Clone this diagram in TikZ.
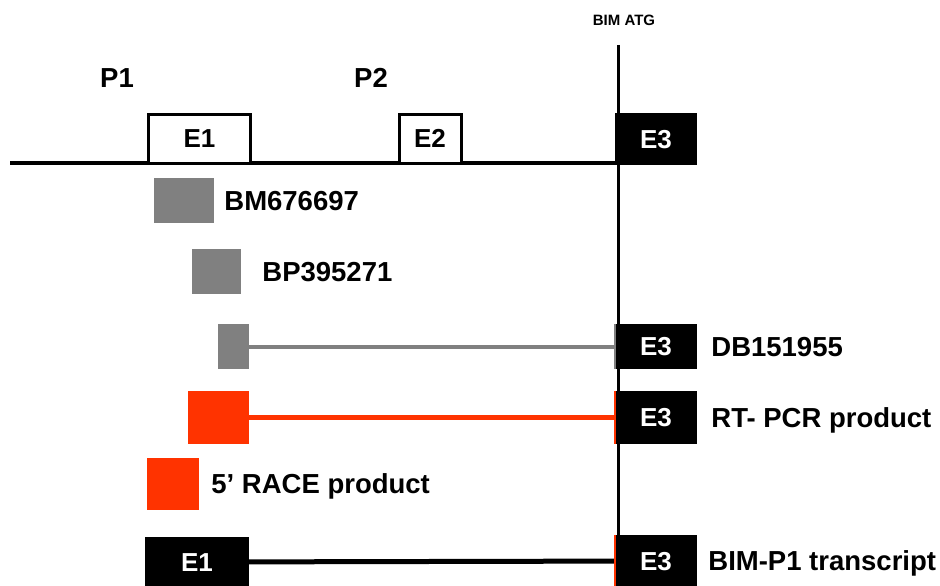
\documentclass[tikz,border=0pt]{standalone}
\usepackage{fontspec}
\setmainfont{Liberation Sans}
\usepackage{xcolor}
\usetikzlibrary{positioning}
\definecolor{estgray}{HTML}{808080}
\definecolor{racered}{HTML}{FF3300}
\newcommand{\lblfont}{\fontsize{27.5}{30}\selectfont\bfseries}
\newcommand{\exfont}{\fontsize{26}{28}\selectfont\bfseries}

\begin{document}
\begin{tikzpicture}[
    x=1pt, y=-1pt,
    node distance=10pt,
    capline/.style={inner sep=0pt,text depth=0pt},
    lbl/.style={capline,text height=19.8pt,font=\lblfont},
    exon/.style={capline,text height=18.7pt,draw,line width=3pt,fill=white,font=\exfont,minimum height=49pt},
    exonb/.style={capline,text height=18.7pt,fill=black,text=white,font=\exfont,minimum width=82pt},
    est/.style={fill=estgray,minimum height=45pt},
    race/.style={fill=racered},
    link/.style={line width=4pt},
    tick/.style={line width=2pt}
]
\useasboundingbox (0,0) rectangle (940,586);

% genomic locus
\node[lbl] (p1) at (117,78) {P1};
\node[lbl] (p2) at (371,78) {P2};
\node[capline,text height=10.8pt,font=\fontsize{15}{17}\selectfont\bfseries] (atg) at (624,20) {BIM ATG};
\coordinate (locstart) at (10,163);
\coordinate (locend) at (656,163);
\draw[line width=4pt] (locstart) -- (locend);
\node[exon,minimum width=102pt] (e1) at (199.5,138.5) {E1};
\node[exon,minimum width=62pt] (e2) at (430,138.5) {E2};
\node[exonb,minimum height=52pt] (e3) at (656,139) {E3};

% ESTs
\node[est,minimum width=60pt] (bm) at (184,200.5) {};
\node[lbl,right=10pt of bm] (bmlbl) {BM676697};
\node[est,minimum width=49pt] (bp) at (216.5,271.5) {};
\node[lbl,right=21pt of bp] (bplbl) {BP395271};
\node[est,minimum width=31pt] (db) at (233.5,346.5) {};
\node[exonb,minimum height=45pt] (dbe3) at (656,346.5) {E3};
\node[lbl,right=14pt of dbe3] (dblbl) {DB151955};
\draw[link,estgray] (db) -- (dbe3);
\draw[tick,estgray] (dbe3.north west) -- (dbe3.south west);

% RT-PCR and RACE
\node[race,minimum width=61pt,minimum height=53pt] (rt) at (218.5,417.5) {};
\node[exonb,minimum height=53pt] (rte3) at (656,417.5) {E3};
\node[lbl,right=14pt of rte3] (rtlbl) {RT- PCR product};
\draw[link,line width=5pt,racered] (rt) -- (rte3);
\draw[tick,racered] (rte3.north west) -- (rte3.south west);
\node[race,minimum size=52pt] (race5) at (173,484) {};
\node[lbl,right=12pt of race5] (racelbl) {5’ RACE product};

% transcript
\node[exonb,minimum width=104pt,minimum height=50pt] (p1e1) at (197,562) {E1};
\node[exonb,minimum height=52pt] (p1e3) at (656,561) {E3};
\node[lbl,right=11pt of p1e3] (p1lbl) {BIM-P1 transcript};
\draw[link,line width=5pt] (p1e1) -- (p1e3);
\draw[tick,racered] (p1e3.north west) -- (p1e3.south west);

% ATG marker
\coordinate (atgtop) at (618,45);
\coordinate (atgbot) at (618,586);
\draw[line width=3pt] (atgtop) -- (atgbot);
\end{tikzpicture}
\end{document}
